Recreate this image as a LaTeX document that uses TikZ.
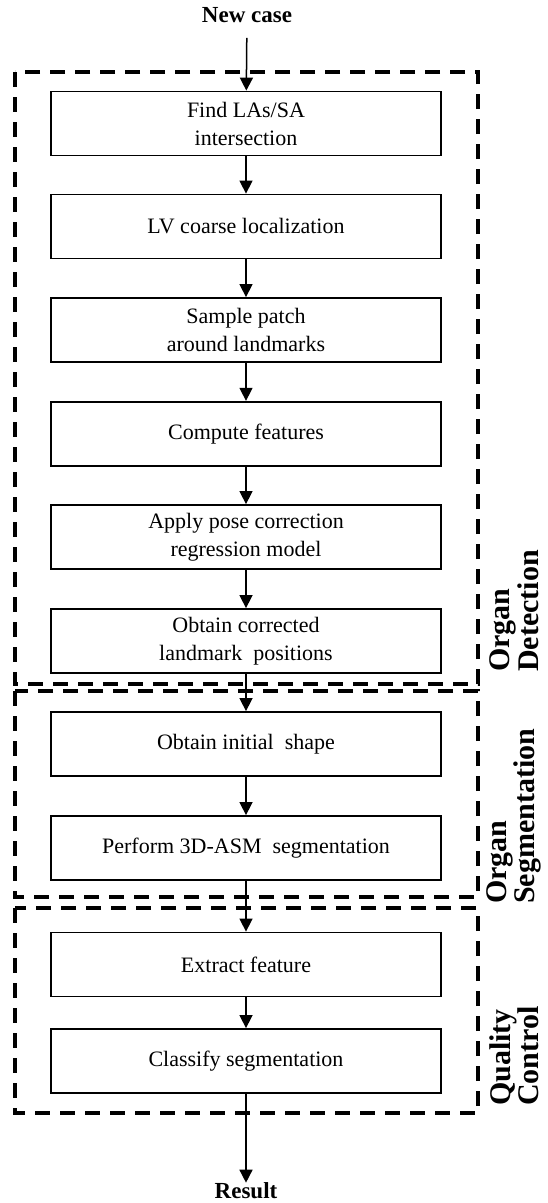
\documentclass[tikz,border=0pt]{standalone}
\usepackage{fontspec}
\setmainfont{Liberation Serif}
\usetikzlibrary{arrows.meta}
\begin{document}
\begin{tikzpicture}[x=1pt,y=-1pt,
  box/.style={draw, line width=1.8pt, minimum width=390pt, minimum height=64pt, align=center, inner sep=0pt, font=\fontsize{22}{28}\selectfont},
  grp/.style={draw, dash pattern=on 15pt off 10pt, line width=3.2pt},
  arr/.style={-{Triangle[length=13pt,width=13pt]}, line width=1.5pt},
  lab/.style={rotate=90, anchor=west, align=left, font=\fontsize{30}{24}\selectfont\bfseries, inner sep=0pt},
  term/.style={font=\fontsize{23}{27}\selectfont\bfseries, inner sep=0pt}]
\useasboundingbox (0,0) rectangle (547,1203);
% groups
\draw[grp] (15,72) rectangle (478,684);
\draw[grp] (15,691) rectangle (478,897);
\draw[grp] (15,908) rectangle (478,1113);
% terminals
\node[term] (nc) at (247,15) {New case};
\node[term] (res) at (246,1191) {Result};
% boxes
\node[box] (b1) at (246,123.5) {Find LAs/SA\\intersection};
\node[box] (b2) at (246,226.5) {LV coarse localization};
\node[box] (b3) at (246,330) {Sample patch\\around landmarks};
\node[box] (b4) at (246,433.75) {Compute features};
\node[box] (b5) at (246,537) {Apply pose correction\\regression model};
\node[box] (b6) at (246,641) {Obtain corrected\\landmark\ \ positions};
\node[box] (b7) at (246,744) {Obtain initial\ \ shape};
\node[box] (b8) at (246,848) {Perform 3D-ASM\ \ segmentation};
\node[box] (b9) at (246,964.5) {Extract feature};
\node[box] (b10) at (246,1061) {Classify segmentation};
% labels
\node[lab] (l1) at (514,672) {Organ\\Detection};
\node[lab] (l2) at (514,904) {Organ\\Segmentation};
\node[lab] (l3) at (514,1106) {Quality\\Control};
% arrows
\draw[arr, shorten <=15pt] (nc) -- (b1);
\draw[arr] (b1) -- (b2);
\draw[arr] (b2) -- (b3);
\draw[arr] (b3) -- (b4);
\draw[arr] (b4) -- (b5);
\draw[arr] (b5) -- (b6);
\draw[arr] (b6) -- (b7);
\draw[arr] (b7) -- (b8);
\draw[arr] (b8) -- (b9);
\draw[arr] (b9) -- (b10);
\draw[arr] (b10) -- (res);
\end{tikzpicture}
\end{document}
